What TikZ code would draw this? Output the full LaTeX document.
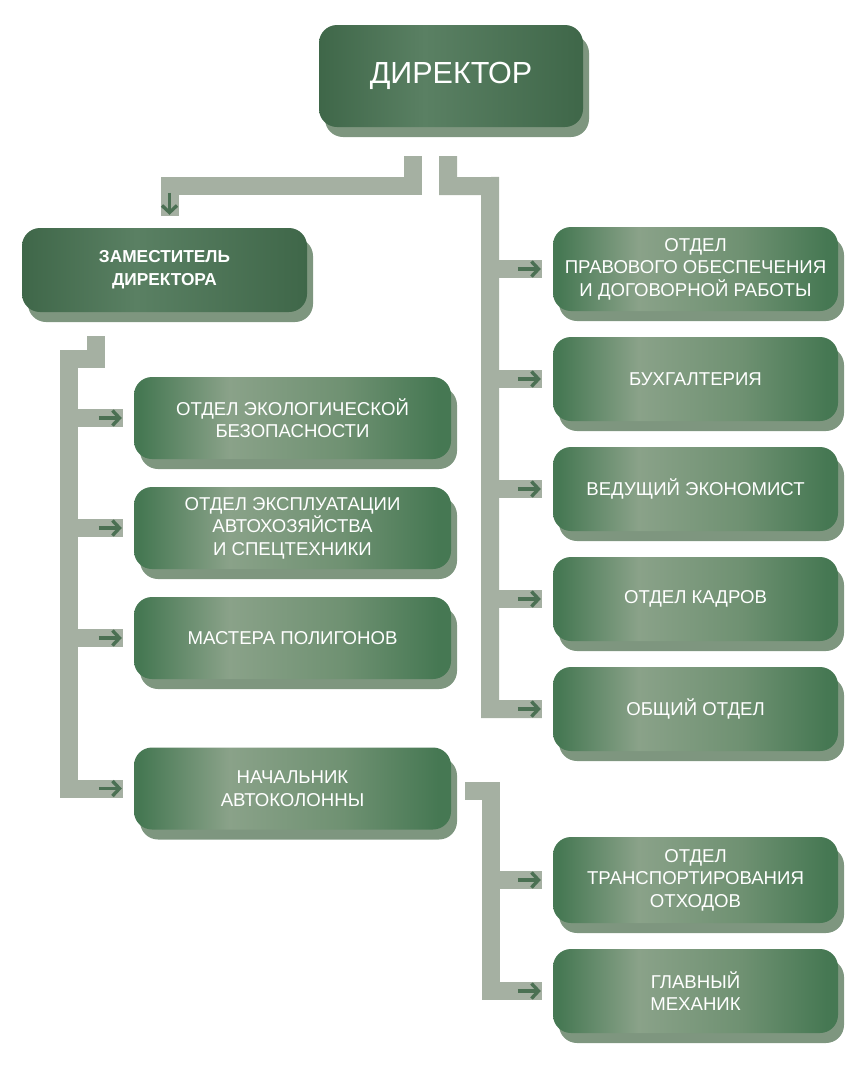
\documentclass[tikz,border=0pt]{standalone}
\usepackage{fontspec}
\setmainfont{Liberation Sans}
\usetikzlibrary{shadows,arrows.meta,calc}
\definecolor{conn}{HTML}{A5B0A2}
\definecolor{shd}{HTML}{7E967F}
\definecolor{arr}{HTML}{4B7053}
\definecolor{bd}{HTML}{467853}
\definecolor{bl}{HTML}{8AA289}
\definecolor{bm}{HTML}{6F9172}
\definecolor{dd}{HTML}{3F6749}
\definecolor{dl}{HTML}{5A8063}
\pgfdeclarehorizontalshading{childsh}{100bp}{color(0bp)=(bd); color(26bp)=(bd); color(40bp)=(bl); color(58bp)=(bm); color(73bp)=(bd); color(100bp)=(bd)}
\pgfdeclarehorizontalshading{bosssh}{100bp}{color(0bp)=(dd); color(25bp)=(dd); color(45bp)=(dl); color(75bp)=(dd); color(100bp)=(dd)}
\tikzset{
  basebox/.style={rounded corners=18pt, text=white, align=center, inner sep=0pt,
    drop shadow={shadow xshift=6pt, shadow yshift=-10pt, fill=shd, opacity=1}},
  cbox/.style={basebox, shade, shading=childsh, font=\fontsize{18.6}{22.5}\selectfont},
  rbox/.style={cbox, minimum width=285pt, minimum height=84pt},
  lbox/.style={cbox, minimum width=317pt, minimum height=82pt},
  bossbox/.style={basebox, shade, shading=bosssh},
  bar/.style={draw=conn, line width=18pt, line join=miter, line cap=butt},
  arrowc/.style={draw=arr, line width=3.4pt, -{Straight Barb[length=7pt,width=15pt]}}
}
\begin{document}
\begin{tikzpicture}[x=1pt,y=-1pt]
\useasboundingbox (0,0) rectangle (858,1085);
% boxes
\node[bossbox, minimum width=264pt, minimum height=102pt, font=\fontsize{30.5}{34}\selectfont] (dir) at (451,76) {ДИРЕКТОР};
\node[bossbox, minimum width=285pt, minimum height=84pt, font=\bfseries\fontsize{17.3}{23}\selectfont] (dep) at (164.5,270) {ЗАМЕСТИТЕЛЬ\\ДИРЕКТОРА};
\node[rbox] (r1) at (695.5,269) {ОТДЕЛ\\ПРАВОВОГО ОБЕСПЕЧЕНИЯ\\И ДОГОВОРНОЙ РАБОТЫ};
\node[rbox] (r2) at (695.5,379) {БУХГАЛТЕРИЯ};
\node[rbox] (r3) at (695.5,489) {ВЕДУЩИЙ ЭКОНОМИСТ};
\node[rbox] (r4) at (695.5,599) {ОТДЕЛ КАДРОВ};
\node[rbox] (r5) at (695.5,709) {ОБЩИЙ ОТДЕЛ};
\node[lbox] (l1) at (292.5,418) {ОТДЕЛ ЭКОЛОГИЧЕСКОЙ\\БЕЗОПАСНОСТИ};
\node[lbox] (l2) at (292.5,528) {ОТДЕЛ ЭКСПЛУАТАЦИИ\\АВТОХОЗЯЙСТВА\\И СПЕЦТЕХНИКИ};
\node[lbox] (l3) at (292.5,638) {МАСТЕРА ПОЛИГОНОВ};
\node[lbox] (l4) at (292.5,788.5) {НАЧАЛЬНИК\\АВТОКОЛОННЫ};
\node[rbox, minimum height=86pt] (b1) at (695.5,880) {ОТДЕЛ\\ТРАНСПОРТИРОВАНИЯ\\ОТХОДОВ};
\node[rbox] (b2) at (695.5,991) {ГЛАВНЫЙ\\МЕХАНИК};
% trunk coordinates
\coordinate (RT) at (490,186);
\coordinate (LS) at (96,359);
\coordinate (LT) at (69,359);
\coordinate (BT) at (490.5,790.5);
% director -> deputy
\draw[bar] ($(dir.south)+(-38.5,29)$) -- ++(0,30) -| ($(dep.north)+(5,-12)$);
\draw[arrowc] ($(dep.north)+(5,-35)$) -- ($(dep.north)+(5,-13)$);
% director -> right column
\draw[bar] ($(dir.south)+(-3,29)$) -- ++(0,30) -- (RT) -- (RT |- r5.west) -- ($(r5.west)+(-11,0)$);
\foreach \t in {r1,r2,r3,r4} \draw[bar] (RT |- \t.west) -- ($(\t.west)+(-11,0)$);
% deputy -> left column
\draw[bar] ($(dep.south)+(-68.5,24)$) -- (LS) -- (LT) -- (LT |- l4.west) -- ($(l4.west)+(-11,0)$);
\foreach \t in {l1,l2,l3} \draw[bar] (LT |- \t.west) -- ($(\t.west)+(-11,0)$);
% head of convoy -> bottom right
\draw[bar] ($(l4.east)+(14,2)$) -- (BT) -- (BT |- b2.west) -- ($(b2.west)+(-11,0)$);
\draw[bar] (BT |- b1.west) -- ($(b1.west)+(-11,0)$);
% arrows
\foreach \t in {r1,r2,r3,r4,r5,l1,l2,l3,l4,b1,b2}
  \draw[arrowc] ($(\t.west)+(-35,0)$) -- ($(\t.west)+(-12,0)$);
\end{tikzpicture}
\end{document}
